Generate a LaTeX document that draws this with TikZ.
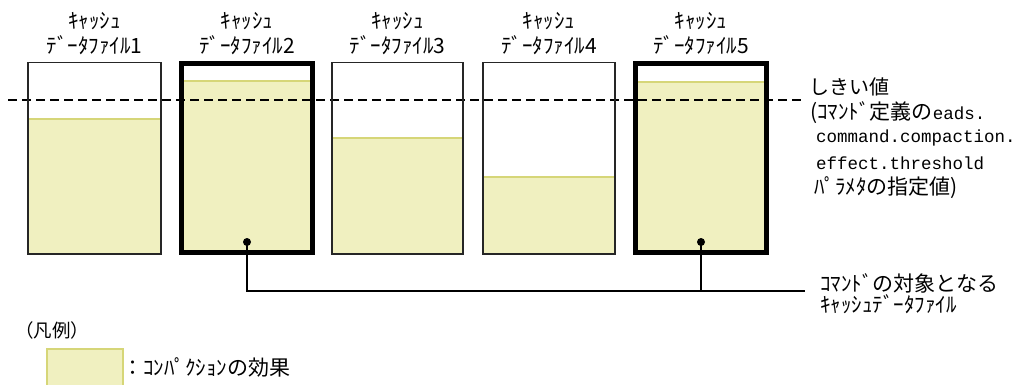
\documentclass[tikz,border=0pt]{standalone}
\usepackage{fontspec}
\setmainfont{Noto Sans CJK JP}
\newfontfamily\latinmono{Liberation Mono}
\usepackage{tikz}
\usetikzlibrary{calc}
\definecolor{effectfill}{RGB}{240,240,192}
\definecolor{effectline}{RGB}{214,214,120}
\newcommand\monotext[1]{{\latinmono\fontsize{17.5}{25}\selectfont #1}}
\tikzset{
  effect/.style={fill=effectfill},
  levelline/.style={draw=effectline, line width=1.5pt},
  cachebox/.style={draw=black!85, line width=1.6pt},
  targetbox/.style={draw=black, line width=5pt},
  filelabel/.style={align=center, inner sep=0pt, font=\fontsize{21}{25}\selectfont},
  note/.style={anchor=west, inner sep=0pt, font=\fontsize{20}{24}\selectfont},
}
\begin{document}
\begin{tikzpicture}[x=1pt, y=-1pt]
    \useasboundingbox (0,0) rectangle (1016,385);
    % fill levels and labels
    \foreach \n/\l/\r/\lvl in {1/28/161/119, 2/181.5/312.5/81, 3/332/463/138, 4/483/615/177, 5/635.5/766.5/82} {
      \fill[effect] (\l,\lvl) rectangle (\r,254);
      \draw[levelline] (\l,\lvl) -- (\r,\lvl);
      \node[filelabel] (label\n) at ({(\l+\r)/2},34) {ｷｬｯｼｭ\\ﾃﾞｰﾀﾌｧｲﾙ\n};
    }
    % threshold
    \coordinate (thrL) at (8,100);
    \coordinate (thrR) at (802,100);
    \draw[line width=1.5pt, dash pattern=on 9pt off 5pt] (thrL) -- (thrR);
    % boxes
    \foreach \l/\r in {28/161, 332/463, 483/615} \draw[cachebox] (\l,62.5) rectangle (\r,254);
    \foreach \l/\r in {181.5/312.5, 635.5/766.5} \draw[targetbox] (\l,63.5) rectangle (\r,252.5);
    \node[note] (thr1) at (809,87) {しきい値};
    \node[note, font=\fontsize{21}{24}\selectfont] (thr2) at (810,113) {(ｺﾏﾝﾄﾞ定義の\monotext{eads.}};
    \node[note] (thr3) at (816,138) {\monotext{command.compaction.}};
    \node[note] (thr4) at (816,163) {\monotext{effect.threshold}};
    \node[note, font=\fontsize{21}{24}\selectfont] (thr5) at (814,188) {ﾊﾟﾗﾒﾀの指定値)};
    % target files
    \coordinate (dot2) at (247,242);
    \coordinate (dot5) at (701,242);
    \coordinate (busend) at (805,291);
    \draw[line width=1.4pt] (dot2) |- (busend);
    \draw[line width=1.4pt] (dot5) -- (dot5 |- busend);
    \foreach \p in {dot2,dot5} \fill (\p) circle (4);
    \node[note, font=\fontsize{21}{24}\selectfont] (target1) at (820,283) {ｺﾏﾝﾄﾞの対象となる};
    \node[note, font=\fontsize{21}{24}\selectfont] (target2) at (820,304) {ｷｬｯｼｭﾃﾞｰﾀﾌｧｲﾙ};
    % legend
    \node[note, font=\fontsize{18.5}{20}\selectfont] (legend) at (15,330) {（凡例）};
    \fill[effect, draw=effectline, line width=1.5pt] (47,349) rectangle (123,390);
    \node[note, font=\fontsize{21}{24}\selectfont] (legendtext) at (122,367) {：ｺﾝﾊﾟｸｼｮﾝの効果};
\end{tikzpicture}
\end{document}
